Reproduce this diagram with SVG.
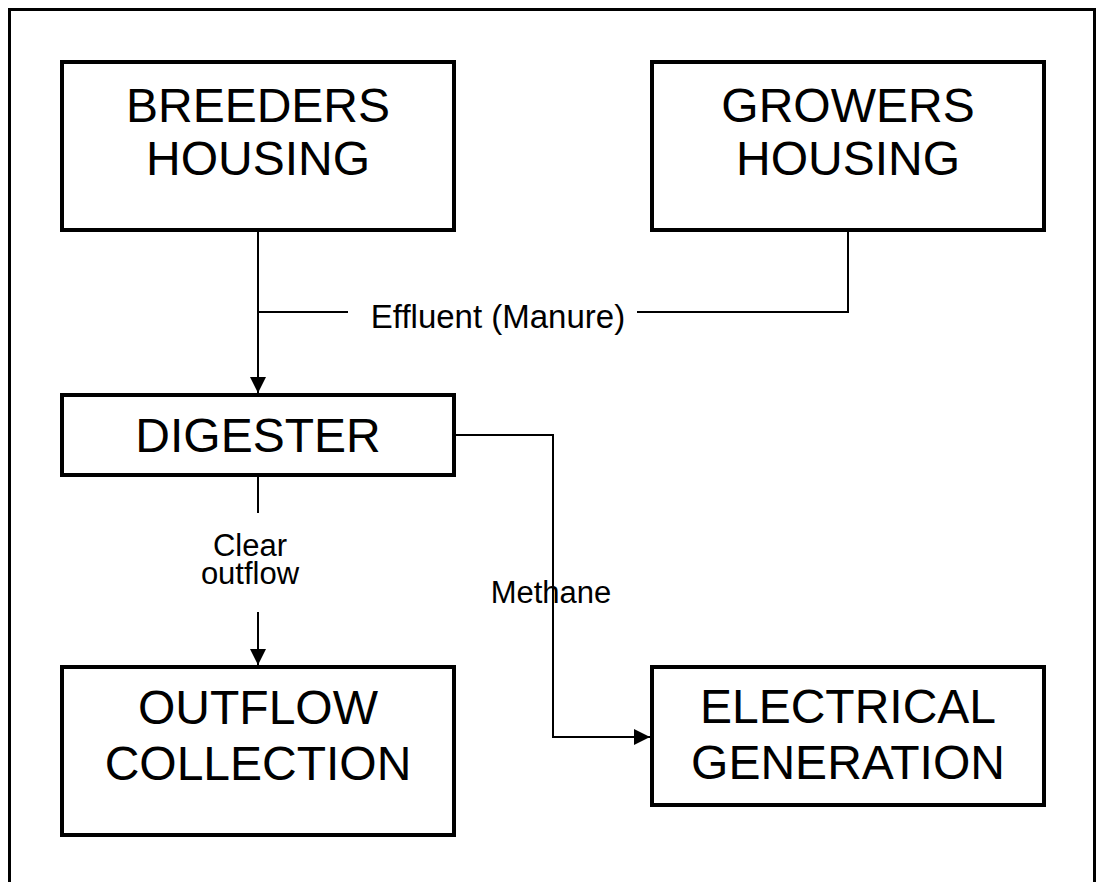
<svg xmlns="http://www.w3.org/2000/svg" width="1096" height="882" viewBox="0 0 1096 882">
<style>
.box{fill:#fff;stroke:#000;stroke-width:4}
.big{font-family:"Liberation Sans",Arial,sans-serif;font-size:48px;fill:#000;text-anchor:middle}
.lbl{font-family:"Liberation Sans",Arial,sans-serif;font-size:31px;fill:#000;text-anchor:middle}
.con{fill:none;stroke:#000;stroke-width:2}
</style>
<defs>
<marker id="arr" markerUnits="userSpaceOnUse" markerWidth="16" markerHeight="16" refX="16" refY="8" orient="auto">
<path d="M0,0 L16,8 L0,16 Z" fill="#000"/>
</marker>
</defs>
<rect x="0" y="0" width="1096" height="882" fill="#fff"/>
<rect x="9.5" y="9.5" width="1085" height="900" fill="none" stroke="#000" stroke-width="3"/>
<g id="connectors">
<path class="con" d="M258,232 V393" marker-end="url(#arr)"/>
<path class="con" d="M258,312 H348"/>
<path class="con" d="M848,232 V312 H637"/>
<path class="con" d="M258,477 V513"/>
<path class="con" d="M258,612 V665" marker-end="url(#arr)"/>
<path class="con" d="M456,435 H553 V737 H650" marker-end="url(#arr)"/>
<text class="lbl" x="498" y="328" style="font-size:33px">Effluent (Manure)</text>
<text class="lbl" x="250" y="556">Clear</text>
<text class="lbl" x="250" y="584">outflow</text>
<text class="lbl" x="551" y="603">Methane</text>
</g>
<g id="breeders">
<rect class="box" x="62" y="62" width="392" height="168"/>
<text class="big" x="258" y="122">BREEDERS</text>
<text class="big" x="258" y="175">HOUSING</text>
</g>
<g id="growers">
<rect class="box" x="652" y="62" width="392" height="168"/>
<text class="big" x="848" y="122">GROWERS</text>
<text class="big" x="848" y="175">HOUSING</text>
</g>
<g id="digester">
<rect class="box" x="62" y="395" width="392" height="80"/>
<text class="big" x="258" y="452">DIGESTER</text>
</g>
<g id="outflow">
<rect class="box" x="62" y="667" width="392" height="168"/>
<text class="big" x="258" y="724">OUTFLOW</text>
<text class="big" x="258" y="780">COLLECTION</text>
</g>
<g id="electrical">
<rect class="box" x="652" y="667" width="392" height="138"/>
<text class="big" x="848" y="723">ELECTRICAL</text>
<text class="big" x="848" y="779">GENERATION</text>
</g>
</svg>
